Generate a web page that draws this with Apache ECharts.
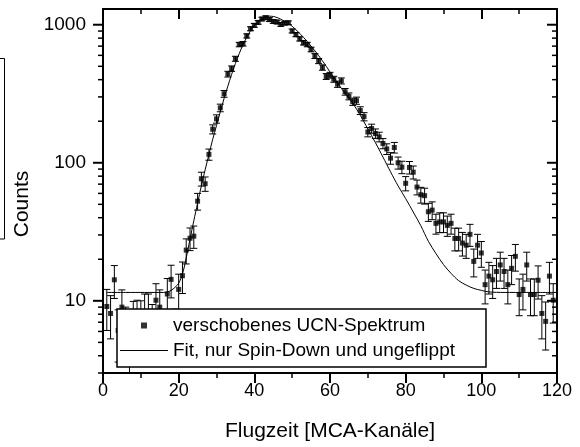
<!DOCTYPE html>
<html>
<head>
<meta charset="utf-8">
<script src="https://cdn.jsdelivr.net/npm/echarts@6/dist/echarts.min.js"></script>
<style>
  html, body { margin: 0; padding: 0; background: #fff; }
  #chart { width: 580px; height: 447px; }
</style>
</head>
<body>
<div id="chart"></div>
<script>
// Time-of-flight spectrum: MCA channel, counts and statistical error
const channels = [
  1, 2, 3, 4, 5, 6, 7, 8, 9, 10,
  11, 12, 13, 14, 15, 16, 17, 18, 19, 20,
  21, 22, 23, 24, 25, 26, 27, 28, 29, 30,
  31, 32, 33, 34, 35, 36, 37, 38, 39, 40,
  41, 42, 43, 44, 45, 46, 47, 48, 49, 50,
  51, 52, 53, 54, 55, 56, 57, 58, 59, 60,
  61, 62, 63, 64, 65, 66, 67, 68, 69, 70,
  71, 72, 73, 74, 75, 76, 77, 78, 79, 80,
  81, 82, 83, 84, 85, 86, 87, 88, 89, 90,
  91, 92, 93, 94, 95, 96, 97, 98, 99, 100,
  101, 102, 103, 104, 105, 106, 107, 108, 109, 110,
  111, 112, 113, 114, 115, 116, 117, 118, 119
];
const counts = [
  9.1, 8.1, 14.2, 6.1, 9.0, 6.5, 4.5, 7.2, 7.4, 7.3,
  8.3, 8.3, 6.8, 10.1, 9.0, 6.0, 11.2, 14.3, 6.2, 12.1,
  15.2, 23.3, 28.4, 29.4, 52.7, 76.6, 70.5, 115, 175, 208,
  250, 316, 439, 481, 567, 719, 728, 830, 935, 990,
  1040, 1100, 1125, 1090, 1056, 1046, 1005, 1028, 1033, 901,
  848, 790, 740, 719, 662, 593, 546, 490, 422, 431,
  403, 371, 392, 327, 303, 277, 282, 239, 216, 167,
  177, 163, 154, 138, 126, 108, 129, 100, 93, 71,
  92.5, 85.5, 66.7, 58.7, 57.8, 44.2, 45.4, 36.4, 37.3, 37.3,
  35.2, 36.4, 28.3, 28.3, 26.2, 25.3, 30.3, 19.3, 25.3, 22.2,
  13.1, 15.1, 14.2, 16.3, 18.2, 16.3, 13.1, 17.2, 21.0, 11.1,
  12.1, 18.2, 11.1, 11.1, 14.1, 8.1, 7.1, 15.1, 10.1
];
const errors = [
  3.0, 2.8, 3.8, 2.5, 3.0, 2.5, 2.1, 2.7, 2.7, 2.7,
  2.9, 2.9, 2.6, 3.2, 3.0, 2.4, 3.3, 3.8, 2.5, 3.5,
  3.9, 4.8, 5.3, 5.4, 7.3, 8.8, 8.4, 10.7, 13.2, 14.4,
  15.8, 17.8, 21.0, 21.9, 23.8, 26.8, 27.0, 28.8, 30.6, 31.5,
  32.2, 33.2, 33.5, 33.0, 32.5, 32.3, 31.7, 32.1, 32.1, 30.0,
  29.1, 28.1, 27.2, 26.8, 25.7, 24.4, 23.4, 22.1, 20.5, 20.8,
  20.1, 19.3, 19.8, 18.1, 17.4, 16.6, 16.8, 15.5, 14.7, 12.9,
  13.3, 12.8, 12.4, 11.7, 11.2, 10.4, 11.4, 10.0, 9.6, 8.4,
  9.6, 9.2, 8.2, 7.7, 7.6, 6.6, 6.7, 6.0, 6.1, 6.1,
  5.9, 6.0, 5.3, 5.3, 5.1, 5.0, 5.5, 4.4, 5.0, 4.7,
  3.6, 3.9, 3.8, 4.0, 4.3, 4.0, 3.6, 4.1, 4.6, 3.3,
  3.5, 4.3, 3.3, 3.3, 3.8, 2.8, 2.7, 3.9, 3.2
];

// Fit curve (spin-down and unflipped components only)
const fitChannels = [
  1, 6, 11, 16, 17, 18, 19, 20, 21, 22, 23, 24, 25, 26, 27, 28, 29, 30,
  31, 32, 33, 34, 35, 36, 37, 38, 39, 40, 41, 42, 43, 44, 45, 46, 47, 48, 49, 50,
  52, 54, 56, 58, 60, 62, 64, 66, 68, 70, 72, 74, 76, 78, 80, 82, 84, 86, 88, 90,
  92, 94, 96, 98, 100, 102, 106, 112, 120
];
const fitCounts = [
  11.5, 11.5, 11.5, 11.5, 11.6, 11.9, 12.5, 13.4, 15.6, 20.5, 28, 38, 51, 68, 89, 115, 148, 186,
  234, 292, 359, 437, 525, 617, 716, 813, 906, 989, 1059, 1109, 1140, 1153, 1148, 1127, 1096, 1059, 1019, 975,
  865, 755, 648, 548, 455, 378, 318, 270, 221, 176, 140, 110, 86, 68, 55, 44, 35, 27, 22, 18.3,
  15.8, 14.0, 13.0, 12.3, 11.9, 11.6, 11.5, 11.5, 11.5
];

// Axis decoration
const xTickValues = [0, 20, 40, 60, 80, 100, 120];
const yLabelValues = [10, 100, 1000];
const yMinorTicks = [3, 4, 5, 6, 7, 8, 9, 20, 30, 40, 50, 60, 70, 80, 90,
                     200, 300, 400, 500, 600, 700, 800, 900];

const FONT = '"Liberation Sans", Arial, Helvetica, sans-serif';
const BLACK = '#000';

const points = channels.map((c, i) => [c, counts[i]]);
const bars = channels.map((c, i) => [c, counts[i] - errors[i], counts[i] + errors[i]]);
const fit = fitChannels.map((c, i) => [c, fitCounts[i]]);
const yTicks = yLabelValues.map(v => [0, v, 10]).concat(yMinorTicks.map(v => [0, v, 5]));

const chart = echarts.init(document.getElementById('chart'), null, { renderer: 'canvas' });

const xBase = {
  type: 'value', min: 0, max: 120, interval: 20,
  splitLine: { show: false },
  axisLine: { show: true, onZero: false, lineStyle: { color: BLACK, width: 2 } },
  axisTick: { show: true, length: 10, lineStyle: { color: BLACK, width: 2 } },
  minorTick: { show: true, splitNumber: 2, length: 5, lineStyle: { color: BLACK, width: 1.5 } }
};

const yBase = {
  type: 'log', logBase: 10, min: 3, max: 1300,
  splitLine: { show: false },
  minorSplitLine: { show: false },
  axisLine: { show: true, onZero: false, lineStyle: { color: BLACK, width: 2 } },
  axisTick: { show: false }
};

chart.setOption({
  animation: false,
  backgroundColor: '#fff',
  textStyle: { fontFamily: FONT, color: BLACK },
  grid: { left: 103, right: 23, top: 9, bottom: 71, containLabel: false },
  graphic: [{
    type: 'rect',
    shape: { x: -20, y: 58.5, width: 24.5, height: 180.5 },
    style: { fill: 'none', stroke: BLACK, lineWidth: 1 },
    silent: true
  }],
  legend: {
    z: 20,
    left: 117, top: 309,
    orient: 'vertical',
    selectedMode: false,
    backgroundColor: '#fff',
    borderColor: BLACK,
    borderWidth: 1.5,
    borderRadius: 0,
    padding: [7, 31, 7, 3],
    itemGap: 6,
    itemWidth: 48,
    itemHeight: 6,
    symbolKeepAspect: true,
    textStyle: { fontSize: 19, color: BLACK, fontFamily: FONT },
    data: [
      { name: 'verschobenes UCN-Spektrum', icon: 'path://M0,0H1V1H0Z' },
      { name: 'Fit, nur Spin-Down und ungeflippt', icon: 'path://M0,0H48V1H0Z' }
    ]
  },
  xAxis: [
    Object.assign({}, xBase, {
      position: 'bottom',
      axisTick: Object.assign({}, xBase.axisTick, { inside: false }),
      axisLabel: {
        fontSize: 18, color: BLACK, fontFamily: FONT, margin: 9,
        formatter: v => (xTickValues.indexOf(v) >= 0 ? String(v) : '')
      },
      name: 'Flugzeit [MCA-Kanäle]',
      nameLocation: 'middle',
      nameGap: 48,
      nameTextStyle: { fontSize: 21, color: BLACK, fontFamily: FONT }
    }),
    Object.assign({}, xBase, {
      position: 'top',
      axisTick: Object.assign({}, xBase.axisTick, { inside: true }),
      axisLabel: { show: false }
    })
  ],
  yAxis: [
    Object.assign({}, yBase, {
      position: 'left',
      axisLabel: {
        fontSize: 19, color: BLACK, fontFamily: FONT, margin: 17,
        showMinLabel: false, showMaxLabel: false,
        formatter: v => {
          const r = Math.round(v);
          return yLabelValues.indexOf(r) >= 0 && Math.abs(r - v) < 1e-6 * r ? String(r) : '';
        }
      },
      name: 'Counts',
      nameLocation: 'middle',
      nameRotate: 90,
      nameGap: 66,
      nameTextStyle: { fontSize: 21, color: BLACK, fontFamily: FONT, padding: [0, 26, 0, 0] }
    }),
    Object.assign({}, yBase, {
      position: 'right',
      axisLabel: { show: false }
    })
  ],
  series: [
    {
      name: 'tick marks',
      type: 'custom',
      xAxisIndex: 0, yAxisIndex: 0,
      silent: true,
      clip: false,
      encode: { x: 0, y: 1 },
      data: yTicks,
      renderItem: function (params, api) {
        const cs = params.coordSys;
        const y = api.coord([0, api.value(1)])[1];
        const len = api.value(2);
        const w = len > 6 ? 2 : 1.5;
        const right = cs.x + cs.width;
        return {
          type: 'group',
          children: [
            { type: 'line', shape: { x1: cs.x - len, y1: y, x2: cs.x, y2: y },
              style: { stroke: BLACK, lineWidth: w } },
            { type: 'line', shape: { x1: right - len, y1: y, x2: right, y2: y },
              style: { stroke: BLACK, lineWidth: w } }
          ]
        };
      },
      z: 2
    },
    {
      name: 'Fehlerbalken',
      type: 'custom',
      xAxisIndex: 0, yAxisIndex: 0,
      silent: true,
      clip: true,
      encode: { x: 0, y: [1, 2] },
      data: bars,
      renderItem: function (params, api) {
        const x = api.value(0);
        const lo = api.coord([x, api.value(1)]);
        const hi = api.coord([x, api.value(2)]);
        const cap = 3.5;
        const st = { stroke: BLACK, lineWidth: 1 };
        return {
          type: 'group',
          children: [
            { type: 'line', shape: { x1: lo[0], y1: lo[1], x2: hi[0], y2: hi[1] }, style: st },
            { type: 'line', shape: { x1: lo[0] - cap, y1: lo[1], x2: lo[0] + cap, y2: lo[1] }, style: st },
            { type: 'line', shape: { x1: hi[0] - cap, y1: hi[1], x2: hi[0] + cap, y2: hi[1] }, style: st }
          ]
        };
      },
      z: 1
    },
    {
      name: 'Fit, nur Spin-Down und ungeflippt',
      type: 'line',
      xAxisIndex: 0, yAxisIndex: 0,
      data: fit,
      smooth: 0.3,
      symbol: 'none',
      lineStyle: { color: BLACK, width: 1 },
      itemStyle: { color: BLACK },
      silent: true,
      z: 2
    },
    {
      name: 'verschobenes UCN-Spektrum',
      type: 'scatter',
      xAxisIndex: 0, yAxisIndex: 0,
      data: points,
      symbol: 'rect',
      symbolSize: 5,
      itemStyle: { color: BLACK },
      silent: true,
      z: 2
    }
  ]
});
</script>
</body>
</html>
